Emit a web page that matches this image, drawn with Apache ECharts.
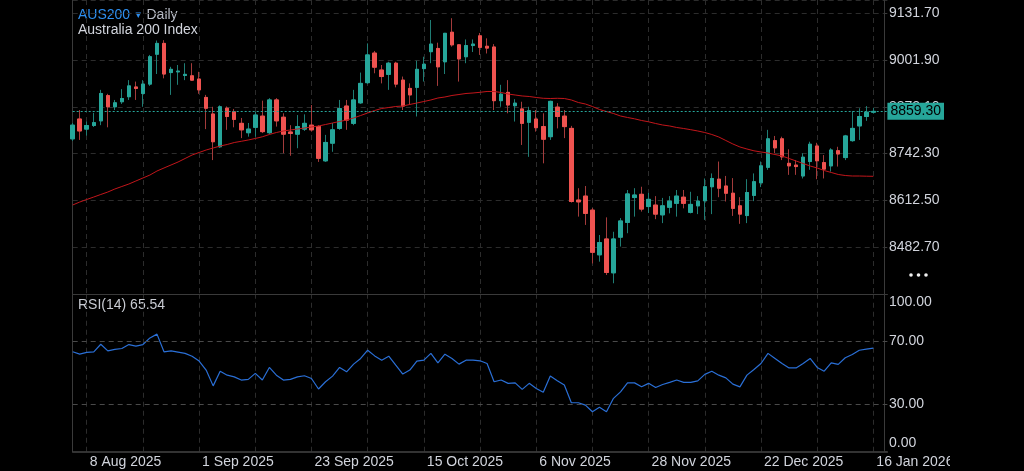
<!DOCTYPE html>
<html>
<head>
<meta charset="utf-8">
<title>AUS200 Daily</title>
<script src="https://cdn.jsdelivr.net/npm/echarts@6/dist/echarts.min.js"></script>
<style>
html, body { margin:0; padding:0; background:#000; }
#aus200Chart { width:1024px; height:471px; }
</style>
</head>
<body>
<div id="aus200Chart"></div>
<script>
//交易日
var categories = [
	'6 Aug 2025','7 Aug 2025','8 Aug 2025','11 Aug 2025','12 Aug 2025','13 Aug 2025','14 Aug 2025','15 Aug 2025','18 Aug 2025',
	'19 Aug 2025','20 Aug 2025','21 Aug 2025','22 Aug 2025','25 Aug 2025','26 Aug 2025','27 Aug 2025','28 Aug 2025','29 Aug 2025',
	'1 Sep 2025','2 Sep 2025','3 Sep 2025','4 Sep 2025','5 Sep 2025','8 Sep 2025','9 Sep 2025','10 Sep 2025','11 Sep 2025',
	'12 Sep 2025','15 Sep 2025','16 Sep 2025','17 Sep 2025','18 Sep 2025','19 Sep 2025','22 Sep 2025','23 Sep 2025','24 Sep 2025',
	'25 Sep 2025','26 Sep 2025','29 Sep 2025','30 Sep 2025',
	'1 Oct 2025','2 Oct 2025','3 Oct 2025','6 Oct 2025','7 Oct 2025','8 Oct 2025','9 Oct 2025','10 Oct 2025','13 Oct 2025',
	'14 Oct 2025','15 Oct 2025','16 Oct 2025','17 Oct 2025','20 Oct 2025','21 Oct 2025','22 Oct 2025','23 Oct 2025','24 Oct 2025',
	'27 Oct 2025','28 Oct 2025','29 Oct 2025','30 Oct 2025','31 Oct 2025',
	'3 Nov 2025','4 Nov 2025','5 Nov 2025','6 Nov 2025','7 Nov 2025','10 Nov 2025','11 Nov 2025','12 Nov 2025','13 Nov 2025',
	'14 Nov 2025','17 Nov 2025','18 Nov 2025','19 Nov 2025','20 Nov 2025','21 Nov 2025','24 Nov 2025','25 Nov 2025','26 Nov 2025',
	'27 Nov 2025','28 Nov 2025',
	'1 Dec 2025','2 Dec 2025','3 Dec 2025','4 Dec 2025','5 Dec 2025','8 Dec 2025','9 Dec 2025','10 Dec 2025','11 Dec 2025',
	'12 Dec 2025','15 Dec 2025','16 Dec 2025','17 Dec 2025','18 Dec 2025','19 Dec 2025','22 Dec 2025','23 Dec 2025','24 Dec 2025',
	'29 Dec 2025','30 Dec 2025','31 Dec 2025',
	'2 Jan 2026','5 Jan 2026','6 Jan 2026','7 Jan 2026','8 Jan 2026','9 Jan 2026','12 Jan 2026','13 Jan 2026','14 Jan 2026',
	'15 Jan 2026','16 Jan 2026'
];

var opens = [
	8783, 8838, 8810, 8820, 8833, 8903, 8872, 8886, 8900, 8927,
	8909, 8935, 9018, 9048, 8967, 8969, 8959, 8958, 8949, 8898,
	8852, 8761, 8868, 8858, 8826, 8800, 8815, 8846, 8800, 8891,
	8843, 8802, 8796, 8810, 8821, 8817, 8722, 8771, 8812, 8874,
	8826, 8883, 8939, 9021, 8974, 8962, 8993, 8946, 8923, 8926,
	8978, 9025, 9034, 8997, 9079, 9044, 9011, 9042, 9069, 9040,
	9038, 8889, 8912, 8875, 8866, 8829, 8838, 8817, 8789, 8871,
	8846, 8812, 8613, 8624, 8585, 8461, 8505, 8411, 8510, 8551,
	8620, 8629, 8595, 8599, 8572, 8593, 8604, 8621, 8579, 8597,
	8611, 8650, 8671, 8652, 8632, 8597, 8570, 8626, 8661, 8704,
	8778, 8783, 8715, 8710, 8680, 8720, 8763, 8717, 8708, 8750,
	8731, 8778, 8819, 8845, 8857
];
var highs = [
	8827, 8863, 8831, 8855, 8919, 8908, 8891, 8921, 8946, 8942,
	8946, 9016, 9056, 9057, 8983, 8988, 8993, 8993, 8969, 8905,
	8872, 8876, 8873, 8866, 8841, 8827, 8858, 8889, 8896, 8896,
	8854, 8821, 8849, 8851, 8877, 8821, 8794, 8827, 8891, 8891,
	8919, 8967, 9048, 9027, 8988, 8997, 8997, 8956, 8937, 9000,
	9011, 9113, 9050, 9077, 9118, 9046, 9059, 9059, 9077, 9062,
	9046, 8933, 8946, 8893, 8886, 8872, 8863, 8854, 8889, 8882,
	8863, 8819, 8646, 8652, 8591, 8516, 8565, 8525, 8563, 8641,
	8646, 8650, 8633, 8624, 8619, 8624, 8641, 8641, 8636, 8624,
	8673, 8687, 8720, 8680, 8674, 8621, 8671, 8687, 8720, 8808,
	8791, 8789, 8754, 8724, 8743, 8775, 8772, 8738, 8757, 8761,
	8794, 8860, 8868, 8874, 8869
];
var lows = [
	8777, 8780, 8792, 8816, 8821, 8815, 8863, 8880, 8891, 8891,
	8872, 8930, 8963, 8951, 8905, 8933, 8946, 8944, 8908, 8810,
	8724, 8758, 8808, 8815, 8785, 8789, 8789, 8799, 8796, 8817,
	8743, 8736, 8757, 8805, 8803, 8719, 8719, 8747, 8808, 8808,
	8821, 8880, 8935, 8965, 8937, 8919, 8926, 8863, 8877, 8845,
	8942, 8993, 8930, 8963, 9039, 8942, 8993, 9024, 9016, 9020,
	8863, 8872, 8854, 8831, 8766, 8733, 8803, 8715, 8780, 8812,
	8785, 8606, 8567, 8544, 8437, 8442, 8405, 8382, 8484, 8521,
	8567, 8581, 8577, 8560, 8549, 8576, 8567, 8590, 8576, 8574,
	8558, 8574, 8621, 8609, 8569, 8547, 8549, 8610, 8649, 8697,
	8743, 8724, 8683, 8683, 8673, 8697, 8671, 8673, 8692, 8706,
	8724, 8775, 8780, 8833, 8853
];
var closes = [
	8821, 8805, 8820, 8828, 8909, 8872, 8883, 8895, 8930, 8923,
	8935, 9011, 9048, 8963, 8976, 8971, 8962, 8946, 8919, 8868,
	8775, 8872, 8845, 8837, 8808, 8810, 8849, 8803, 8891, 8833,
	8796, 8798, 8817, 8826, 8808, 8729, 8773, 8808, 8867, 8835,
	8891, 8937, 9016, 8982, 8956, 8993, 8935, 8874, 8905, 8976,
	8990, 9046, 8983, 9076, 9044, 9005, 9042, 9046, 9037, 9035,
	8889, 8907, 8877, 8882, 8826, 8861, 8814, 8782, 8887, 8845,
	8817, 8609, 8608, 8576, 8468, 8495, 8412, 8505, 8555, 8630,
	8627, 8588, 8615, 8574, 8597, 8610, 8624, 8604, 8601, 8610,
	8650, 8673, 8646, 8632, 8590, 8574, 8634, 8664, 8708, 8783,
	8758, 8733, 8708, 8706, 8732, 8768, 8722, 8699, 8752, 8741,
	8791, 8812, 8845, 8857, 8859.3
];

//均线
var ma50 = [
	8599.3, 8607.6, 8614.6, 8621.5, 8628.5, 8635.4, 8643.7, 8650.7, 8657.6, 8666.0,
	8674.3, 8682.6, 8693.7, 8702.1, 8710.4, 8718.7, 8728.4, 8738.1, 8745.1, 8752.0,
	8757.6, 8763.1, 8767.3, 8772.8, 8776.2, 8779.8, 8784.0, 8788.7, 8795.1, 8800.6,
	8804.8, 8807.6, 8810.3, 8813.1, 8815.9, 8818.7, 8822.8, 8827.0, 8831.2, 8835.3,
	8840.9, 8847.8, 8854.8, 8861.7, 8867.3, 8870.0, 8872.8, 8874.2, 8878.4, 8882.5,
	8886.7, 8890.9, 8896.4, 8899.2, 8903.4, 8906.1, 8908.9, 8910.3, 8912.2, 8914.5,
	8914.5, 8911.7, 8907.5, 8904.7, 8902.0, 8900.6, 8897.8, 8895.6, 8895.0, 8895.6,
	8895.0, 8890.9, 8883.9, 8879.7, 8872.8, 8864.5, 8858.9, 8853.4, 8846.4, 8842.3,
	8838.6, 8833.9, 8830.3, 8825.6, 8821.4, 8818.7, 8814.5, 8811.7, 8808.4, 8804.8,
	8800.6, 8795.1, 8788.1, 8778.4, 8768.7, 8760.4, 8754.8, 8749.8, 8746.5, 8743.7,
	8739.5, 8735.4, 8728.4, 8721.5, 8714.5, 8707.6, 8702.1, 8695.1, 8689.6, 8684.0,
	8681.2, 8679.8, 8679.8, 8679.3, 8679.0
];

//RSI(14)
var rsi14 = [
	63.2, 61.7, 62.8, 63.2, 68.0, 63.8, 64.7, 65.3, 67.8, 66.8,
	67.8, 72.0, 74.4, 63.2, 63.8, 63.0, 62.2, 60.4, 57.3, 51.6,
	41.6, 50.9, 48.4, 47.3, 45.3, 45.7, 49.5, 45.3, 53.3, 48.4,
	45.3, 45.7, 47.3, 48.0, 46.3, 39.6, 44.2, 47.8, 53.3, 50.5,
	55.4, 59.0, 64.2, 60.6, 57.9, 60.4, 54.7, 49.1, 51.6, 57.3,
	57.9, 62.2, 56.2, 61.7, 59.0, 55.4, 57.9, 57.9, 57.5, 55.8,
	44.2, 45.3, 43.2, 43.5, 39.4, 43.2, 40.0, 37.5, 47.8, 44.8,
	42.1, 30.9, 30.9, 29.4, 25.2, 28.0, 25.2, 33.7, 37.8, 43.5,
	43.5, 41.0, 43.2, 40.6, 42.5, 43.8, 45.3, 43.8, 43.8, 44.8,
	48.9, 50.9, 48.4, 46.7, 42.7, 41.0, 48.4, 52.0, 55.8, 62.2,
	59.0, 55.8, 53.0, 53.0, 55.8, 59.0, 53.3, 50.9, 56.2, 55.2,
	59.4, 61.5, 64.2, 64.9, 65.54
];

var rsiTicks = [0, 30, 70, 100];
var rsiLevels = [70, 30];
var lastPrice = 8859.30;

var upColor = '#26a69a', downColor = '#ef5350';
var upWick = '#1f7d74', downWick = '#a33b3b';
var gridColor = '#2c2c2c', frameColor = '#3a3a3a', labelColor = '#d1d4dc';
var fontFamily = '"Liberation Sans", Arial, sans-serif';

//影线: 完整的 开/收/低/高
function buildWicks(){
	var list = [];
	for (var i = 0; i < opens.length; i++) {
		list.push([opens[i], closes[i], lows[i], highs[i]]);
	}
	return list;
}

//实体: 只保留开收, 盖在影线上面
function buildBodies(){
	var list = [];
	for (var i = 0; i < opens.length; i++) {
		list.push([opens[i], closes[i], Math.min(opens[i], closes[i]), Math.max(opens[i], closes[i])]);
	}
	return list;
}

//每8根K线一条竖线, 每16根一个日期
function gridLineAt(index){
	return index >= 2 && (index - 2) % 8 === 0;
}
function dateLabelAt(index){
	return index >= 2 && (index - 2) % 16 === 0;
}

function rsiLabel(value){
	var text = value.toFixed(2);
	if (value === 100) return '{top|' + text + '}';
	if (value === 0) return '{bottom|' + text + '}';
	return text;
}

function initAus200Chart(){
	var axisDates = categories.concat(['', '']);
	var option = {
		backgroundColor: '#000',
		animation: false,
		textStyle: { fontFamily: fontFamily },
		grid: [
			{ left: 72.7, top: 0, width: 814.7, height: 293.75 },
			{ left: 72.7, top: 293.75, width: 814.7, height: 157.75 }
		],
		xAxis: [
			{
				type: 'category', gridIndex: 0, data: axisDates, boundaryGap: false,
				axisLine: { show: true, lineStyle: { color: frameColor } },
				axisTick: { show: false },
				axisLabel: { show: false },
				splitLine: { show: true, interval: gridLineAt, lineStyle: { color: gridColor, type: [5, 4] } }
			},
			{
				type: 'category', gridIndex: 1, data: axisDates, boundaryGap: false,
				axisLine: { show: true, lineStyle: { color: '#444', width: 1.5 } },
				axisTick: { show: false },
				axisLabel: {
					show: true, interval: dateLabelAt, align: 'left', padding: [0, 0, 0, 3],
					margin: 4, color: labelColor, fontSize: 14, fontFamily: fontFamily
				},
				splitLine: { show: true, interval: gridLineAt, lineStyle: { color: gridColor, type: [5, 4] } }
			}
		],
		yAxis: [
			{
				type: 'value', gridIndex: 0, position: 'right', offset: -3.4,
				min: 8352.9, max: 9168.5, interval: 129.8,
				axisLine: { show: true, lineStyle: { color: frameColor } },
				axisTick: { show: true, length: 3, lineStyle: { color: frameColor } },
				axisLabel: {
					color: labelColor, fontSize: 14, fontFamily: fontFamily, margin: 5,
					showMinLabel: false, showMaxLabel: false,
					formatter: function(v){ return v.toFixed(2); }
				},
				splitLine: { show: true, lineStyle: { color: gridColor, type: [5, 4] } }
			},
			{
				type: 'value', gridIndex: 1, position: 'right', offset: -3.4,
				min: 0, max: 100,
				axisLine: { show: true, lineStyle: { color: frameColor } },
				axisTick: { show: true, length: 3, customValues: rsiTicks, lineStyle: { color: frameColor } },
				axisLabel: {
					customValues: rsiTicks, color: labelColor, fontSize: 14, fontFamily: fontFamily, margin: 5,
					formatter: rsiLabel,
					rich: {
						top: { color: labelColor, fontSize: 14, fontFamily: fontFamily, padding: [17, 0, 0, 0] },
						bottom: { color: labelColor, fontSize: 14, fontFamily: fontFamily, padding: [0, 0, 17, 0] }
					}
				},
				splitLine: { show: false }
			},
			{
				type: 'value', gridIndex: 0, position: 'left', min: 0, max: 1,
				axisLine: { show: true, lineStyle: { color: frameColor } },
				axisTick: { show: false }, axisLabel: { show: false }, splitLine: { show: false }
			},
			{
				type: 'value', gridIndex: 1, position: 'left', min: 0, max: 1,
				axisLine: { show: true, lineStyle: { color: frameColor } },
				axisTick: { show: false }, axisLabel: { show: false }, splitLine: { show: false }
			}
		],
		graphic: [
			{ type: 'text', x: 78, y: 15, style: { text: 'AUS200', fill: '#2e8ff0', font: '14px ' + fontFamily, verticalAlign: 'middle' } },
			{ type: 'text', x: 135.5, y: 15, style: { text: '▾', fill: '#2e8ff0', font: '11px "DejaVu Sans"', verticalAlign: 'middle' } },
			{ type: 'text', x: 146.5, y: 15, style: { text: 'Daily', fill: '#b8bcc6', font: '14px ' + fontFamily, verticalAlign: 'middle' } },
			{ type: 'text', x: 78, y: 30.5, style: { text: 'Australia 200 Index', fill: '#d1d4dc', font: '14px ' + fontFamily, verticalAlign: 'middle' } },
			{ type: 'text', x: 78, y: 305.5, style: { text: 'RSI(14) ' + rsi14[rsi14.length - 1].toFixed(2), fill: '#c8cbd2', font: '14px ' + fontFamily, verticalAlign: 'middle' } },
			{ type: 'circle', shape: { cx: 911, cy: 275, r: 1.8 }, style: { fill: '#f0f0f0' } },
			{ type: 'circle', shape: { cx: 918.5, cy: 275, r: 1.8 }, style: { fill: '#f0f0f0' } },
			{ type: 'circle', shape: { cx: 926, cy: 275, r: 1.8 }, style: { fill: '#f0f0f0' } },
			{ type: 'rect', z: 100, shape: { x: 950, y: 453, width: 74, height: 18 }, style: { fill: '#000' } }
		],
		series: [
			{
				name: 'AUS200 wick',
				type: 'candlestick',
				xAxisIndex: 0, yAxisIndex: 0,
				data: buildWicks(),
				barWidth: 4, silent: true,
				itemStyle: {
					color: upWick, color0: downWick,
					borderColor: upWick, borderColor0: downWick, borderWidth: 1
				}
			},
			{
				name: 'AUS200',
				type: 'candlestick',
				xAxisIndex: 0, yAxisIndex: 0,
				data: buildBodies(),
				barWidth: 4, silent: true,
				itemStyle: {
					color: upColor, color0: downColor,
					borderColor: upColor, borderColor0: downColor, borderWidth: 1
				},
				markLine: {
					silent: true, symbol: ['none', 'none'], animation: false,
					lineStyle: { color: upColor, type: [2, 2], width: 1 },
					label: {
						show: true, position: 'end', distance: 0,
						formatter: lastPrice.toFixed(2),
						color: '#000', backgroundColor: upColor, padding: [2, 3, 1, 3],
						fontSize: 14, fontFamily: fontFamily
					},
					data: [{ yAxis: lastPrice }]
				}
			},
			{
				name: 'MA',
				type: 'line',
				xAxisIndex: 0, yAxisIndex: 0,
				data: ma50,
				showSymbol: false, silent: true,
				lineStyle: { color: '#c2161b', width: 1 }
			},
			{
				name: 'RSI(14)',
				type: 'line',
				xAxisIndex: 1, yAxisIndex: 1,
				data: rsi14,
				showSymbol: false, silent: true,
				lineStyle: { color: '#2a6fd6', width: 1.2 },
				markLine: {
					silent: true, symbol: ['none', 'none'], animation: false,
					lineStyle: { color: '#4a4a4a', type: [5, 4], width: 1 },
					label: { show: false },
					data: rsiLevels.map(function(v){ return { yAxis: v }; })
				}
			}
		]
	};
	var chart = echarts.init(document.getElementById('aus200Chart'));
	chart.setOption(option);
}

initAus200Chart();
</script>
</body>
</html>
